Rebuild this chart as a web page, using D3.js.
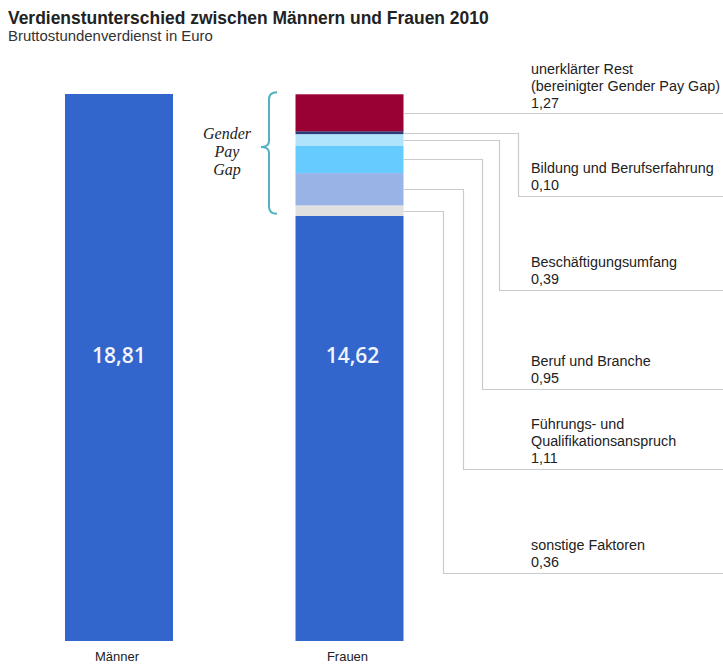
<!DOCTYPE html>
<html>
<head>
<meta charset="utf-8">
<script src="https://cdn.jsdelivr.net/npm/d3@7"></script>
<style>
  html, body { margin: 0; padding: 0; background: #fff; }
  svg { display: block; }
</style>
</head>
<body>
<svg id="chart" width="723" height="664"></svg>
<script>
// ---------- data ----------
const title = "Verdienstunterschied zwischen Männern und Frauen 2010";
const subtitle = "Bruttostundenverdienst in Euro";
const categories = ["Männer", "Frauen"];
const maennerValue = 18.81;
const frauenValue = 14.62;
// gap components, stacked from bottom (on top of Frauen) to top
const gapFactors = [
  "sonstige Faktoren",
  "Führungs- und Qualifikationsanspruch",
  "Beruf und Branche",
  "Beschäftigungsumfang",
  "Bildung und Berufserfahrung",
  "unerklärter Rest (bereinigter Gender Pay Gap)"
];
const gapValues = [0.36, 1.11, 0.95, 0.39, 0.10, 1.27];
const gapValueLabels = ["0,36", "1,11", "0,95", "0,39", "0,10", "1,27"];
const gapLabelLines = [
  ["sonstige Faktoren"],
  ["Führungs- und", "Qualifikationsanspruch"],
  ["Beruf und Branche"],
  ["Beschäftigungsumfang"],
  ["Bildung und Berufserfahrung"],
  ["unerklärter Rest", "(bereinigter Gender Pay Gap)"]
];
const barValueLabels = ["18,81", "14,62"];
const braceLabel = ["Gender", "Pay", "Gap"];

// ---------- layout / style ----------
const gapColors = ["#e0e0e0", "#99b3e6", "#66ccff", "#b0e4fc", "#2e3a78", "#990033"];
const baseColor = "#3366cc";
const leaderColor = "#cbcbcb";
const labelSlotY = [573, 469, 389, 290, 196, 114];   // y of the horizontal run of each leader
const leaderElbowX = [443, 463, 482, 499, 518, null];
const labelX = 531;

const svg = d3.select("#chart");

const x = d3.scaleBand().domain(categories).range([65, 403.5]).paddingInner(0.5315).paddingOuter(0);
const y = d3.scaleLinear().domain([0, maennerValue]).range([641, 94]);

function fitText(sel, targetW) {
  const n = sel.node();
  const fs = parseFloat(sel.attr("font-size"));
  const w = n.getComputedTextLength();
  sel.attr("font-size", (fs * targetW / w).toFixed(2));
}

// title
svg.append("text").attr("x", 8).attr("y", 24)
  .attr("font-family", "Liberation Sans, Arial, sans-serif").attr("font-weight", "bold")
  .attr("font-size", 16).attr("fill", "#222").text(title).call(fitText, 481);
svg.append("text").attr("x", 8).attr("y", 41)
  .attr("font-family", "Liberation Sans, Arial, sans-serif")
  .attr("font-size", 13).attr("fill", "#333").text(subtitle).call(fitText, 205);

// bars
const barData = [
  { cat: categories[0], y0: 0, y1: maennerValue, color: baseColor },
  { cat: categories[1], y0: 0, y1: frauenValue, color: baseColor }
];
let acc = frauenValue;
const gapSegs = gapValues.map((v, i) => {
  const s = { cat: categories[1], y0: acc, y1: acc + v, color: gapColors[i], i };
  acc += v;
  return s;
});

svg.append("g").selectAll("rect").data(barData.concat(gapSegs)).join("rect")
  .attr("x", d => x(d.cat))
  .attr("width", x.bandwidth())
  .attr("y", d => y(d.y1))
  .attr("height", d => y(d.y0) - y(d.y1))
  .attr("fill", d => d.color);

// value labels inside bars
svg.append("g").selectAll("text").data(barData).join("text")
  .attr("x", (d, i) => x(d.cat) + x.bandwidth() / 2 + (i === 1 ? 3 : 0))
  .attr("y", 363)
  .attr("text-anchor", "middle")
  .attr("font-family", "Open Sans, sans-serif")
  .attr("font-size", 21)
  .attr("font-weight", 600)
  .attr("fill", "#f2f4ff")
  .text((d, i) => barValueLabels[i]);

// category labels
svg.append("g").selectAll("text").data(categories).join("text")
  .attr("x", d => x(d) + x.bandwidth() / 2 - 2)
  .attr("y", 661)
  .attr("text-anchor", "middle")
  .attr("font-family", "Liberation Sans, Arial, sans-serif")
  .attr("font-size", 13)
  .attr("fill", "#222")
  .text(d => d);

// leader lines
const barRight = x(categories[1]) + x.bandwidth();
const leaders = svg.append("g").attr("fill", "none").attr("stroke", leaderColor).attr("stroke-width", 1.2);
gapSegs.forEach((s, i) => {
  const ym = Math.round(y((s.y0 + s.y1) / 2)) + 0.5;
  const ys = labelSlotY[i] + 0.5;
  const ex = leaderElbowX[i];
  const path = ex == null
    ? `M${barRight},${ym}H723`
    : `M${barRight},${ym}H${ex + 0.5}V${ys}H723`;
  leaders.append("path").attr("d", path);
});

// labels
const labelG = svg.append("g")
  .attr("font-family", "Liberation Sans, Arial, sans-serif")
  .attr("fill", "#222");
const probe = labelG.append("text").attr("font-size", 13).text("(bereinigter Gender Pay Gap)");
fitText(probe, 189);
const labelFs = parseFloat(probe.attr("font-size"));
probe.remove();
const lineH = 17;
gapSegs.forEach((s, i) => {
  const lines = gapLabelLines[i].concat([gapValueLabels[i]]);
  const lastBase = labelSlotY[i] - 6;
  lines.forEach((ln, j) => {
    labelG.append("text")
      .attr("x", labelX)
      .attr("y", lastBase - (lines.length - 1 - j) * lineH)
      .attr("font-size", labelFs)
      .text(ln);
  });
});

// brace
const bTop = y(frauenValue + d3.sum(gapValues)) - 2;
const bBot = y(frauenValue) - 2;
const bMid = (bTop + bBot) / 2 - 6;
const bx = 269;
svg.append("path")
  .attr("d", `M${bx + 8},${bTop} Q${bx},${bTop} ${bx},${bTop + 7} L${bx},${bMid - 6} Q${bx},${bMid} ${bx - 8},${bMid} Q${bx},${bMid} ${bx},${bMid + 6} L${bx},${bBot - 7} Q${bx},${bBot} ${bx + 8},${bBot}`)
  .attr("fill", "none").attr("stroke", "#52b2bf").attr("stroke-width", 2);

svg.append("g").selectAll("text").data(braceLabel).join("text")
  .attr("x", 227)
  .attr("y", (d, i) => 139 + i * 18)
  .attr("text-anchor", "middle")
  .attr("font-family", "Liberation Serif, Times New Roman, serif")
  .attr("font-style", "italic")
  .attr("font-size", 16)
  .attr("fill", "#222")
  .text(d => d);
</script>
</body>
</html>
